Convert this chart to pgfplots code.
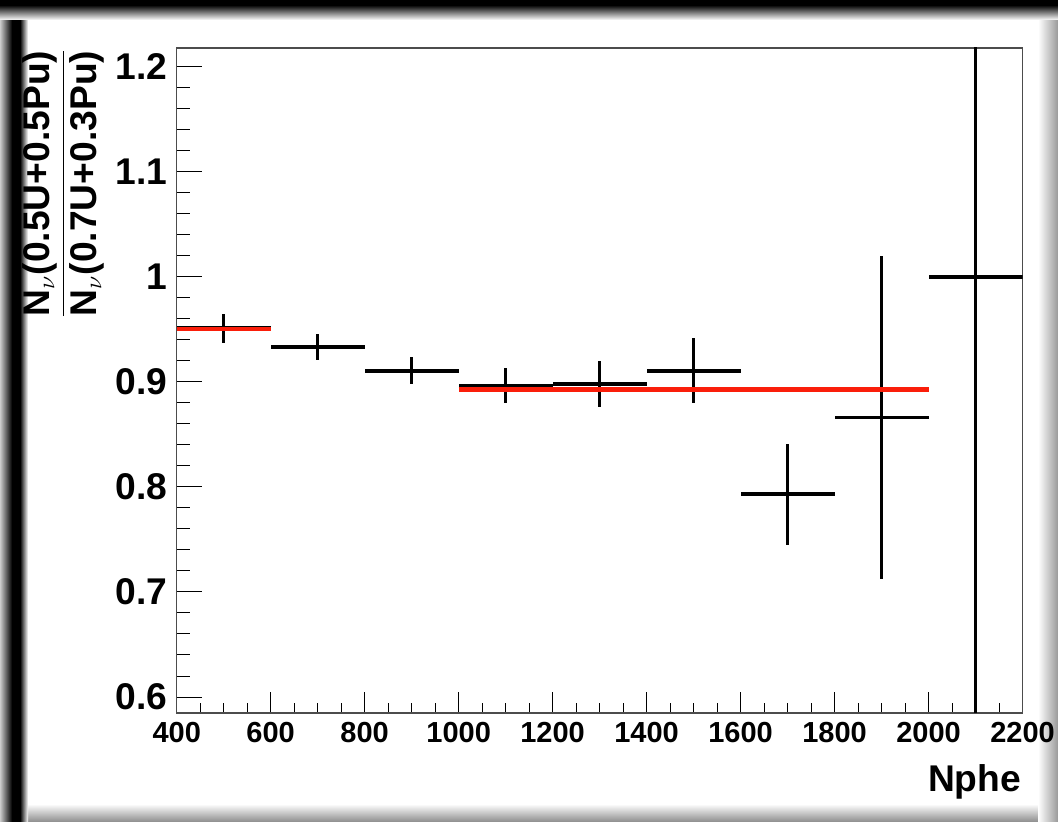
\documentclass[border=0pt]{standalone}
\usepackage{pgfplots}
\pgfplotsset{compat=1.18}
\usepackage{pgfplotstable}
\usepackage{fontspec}
\setmainfont{Liberation Sans}
\definecolor{fitred}{RGB}{250,30,10}

\pgfplotstableread{
x ex y ey
500 100 0.951 0.0137
700 100 0.933 0.0125
900 100 0.9105 0.013
1100 100 0.8966 0.0165
1300 100 0.898 0.022
1500 100 0.9105 0.031
1700 100 0.793 0.048
1900 100 0.866 0.154
2100 100 1.000 0.6
}\ratio

\begin{document}
\begin{tikzpicture}
\useasboundingbox (0,0) rectangle (529pt,411pt);
\fill[white] (0,0) rectangle (529pt,411pt);
% frame shadow
\shade[bottom color=black!45, top color=white] (0,0) rectangle (529pt,9pt);
\shade[right color=black!40, left color=white] (519pt,0) rectangle (529pt,411pt);
\shade[left color=black!20, right color=black] (0,0) rectangle (6pt,411pt);
\fill[black] (6pt,0) rectangle (10pt,411pt);
\shade[left color=black, right color=white] (10pt,0) rectangle (14pt,411pt);
\shade[top color=black, bottom color=white] (0,401pt) rectangle (529pt,408.5pt);
\fill[black] (0,408.5pt) rectangle (529pt,411pt);

\begin{axis}[
  at={(88.35pt,54.5pt)}, anchor=south west,
  scale only axis, width=422.9pt, height=332.5pt,
  xmin=400, xmax=2200, ymin=0.5848, ymax=1.2178,
  axis line style={draw=black!70, line width=0.7pt},
  tick pos=left, tick align=inside,
  xtick={400,600,...,2200},
  ytick={0.6,0.7,0.8,0.9,1.0,1.1,1.2},
  minor x tick num=3, minor y tick num=4,
  major tick length=12.5pt, minor tick length=6.5pt,
  xtick style={/pgfplots/major tick length=10.3pt, /pgfplots/minor tick length=5pt},
  tick style={black, line width=0.5pt},
  /pgf/number format/assume math mode=true,
  /pgf/number format/1000 sep={},
  xticklabel style={font=\fontsize{14.5}{16}\selectfont\bfseries, yshift=-1pt},
  yticklabel style={font=\fontsize{18.6}{20}\selectfont\bfseries, xshift=-1pt},
  scaled ticks=false,
]
\addplot[draw=none, mark=none,
  error bars/.cd, x dir=both, x explicit, y dir=both, y explicit,
  error mark=none,
  error bar style={draw=black, line width=1.8pt, solid}]
  table[x=x, y=y, x error=ex, y error=ey] {\ratio};
\addplot[fitred, line width=2.1pt, mark=none] coordinates {(400,0.9505) (600,0.9505)};
\addplot[fitred, line width=2.1pt, mark=none] coordinates {(1000,0.8927) (2000,0.8927)};
\end{axis}

\node[rotate=90, anchor=east, inner sep=0pt] at (31.5pt,387pt)
  {\fontsize{18.6}{20}\selectfont\bfseries
   $\displaystyle\frac{\mbox{N$_\nu$(0.5U+0.5Pu)}}{\mbox{N$_\nu$(0.7U+0.3Pu)}}$};
\node[anchor=base east, inner sep=0pt] at (510.75pt,15.2pt)
  {\fontsize{18.6}{20}\selectfont\bfseries Nphe};
\end{tikzpicture}
\end{document}
